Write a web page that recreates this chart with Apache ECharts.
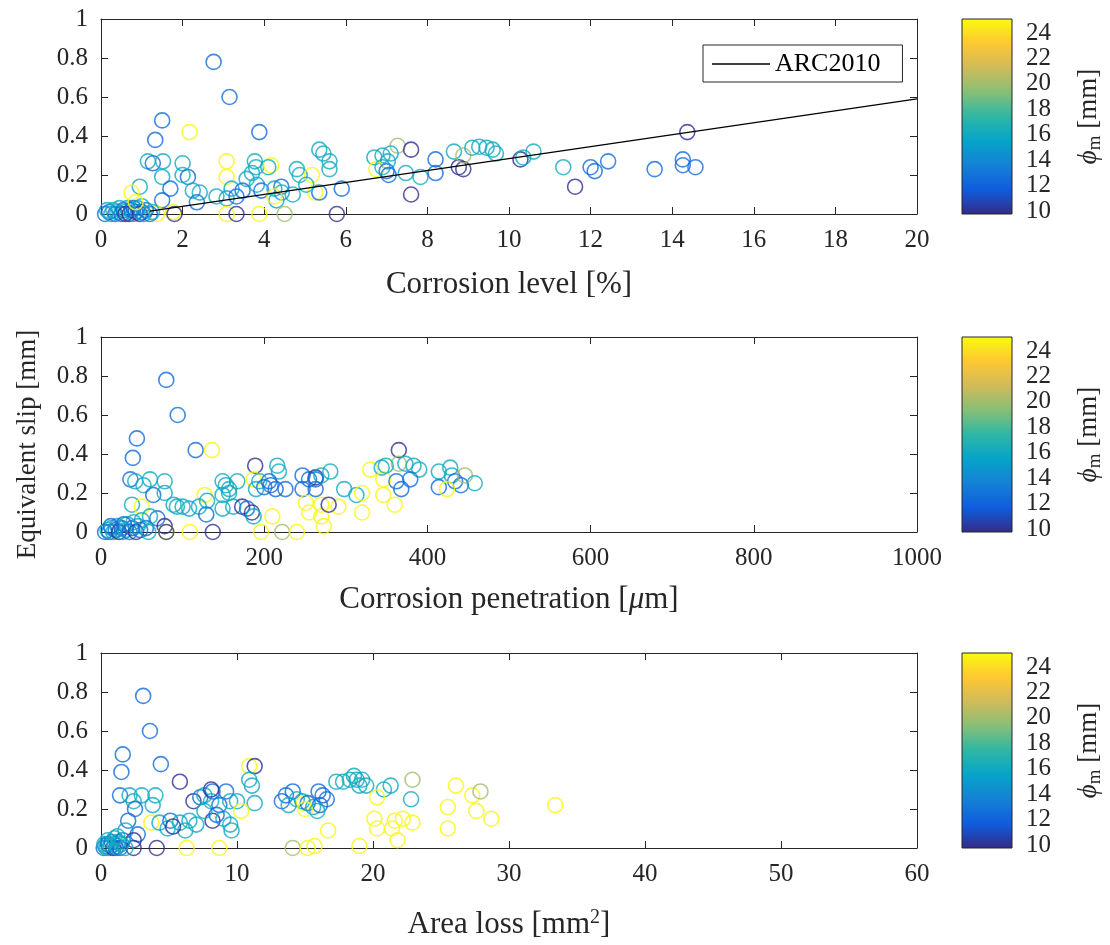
<!DOCTYPE html>
<html><head><meta charset="utf-8">
<script src="https://cdn.jsdelivr.net/npm/echarts@6/dist/echarts.min.js"></script>
<style>html,body{margin:0;padding:0;background:#fff}#c{width:1110px;height:945px}</style>
</head><body><div id="c"></div>
<script>
// [corrosion level %, equivalent slip mm, phi_m mm]
const corrosionLevel = [
[2.76,0.78,12.5],[3.15,0.60,12.5],[1.5,0.48,12.5],[3.88,0.42,12.5],[2.17,0.42,25],[1.33,0.38,12.5],
[14.37,0.42,10],[7.27,0.35,20],[7.6,0.33,10],[5.35,0.33,16],[5.45,0.31,16],[5.6,0.27,16],[5.6,0.23,16],
[5.25,0.11,25],[5.9,0.13,12.5],[5.35,0.11,12.5],
[1.15,0.27,16],[1.27,0.26,12.5],[1.52,0.27,16],[2.0,0.26,16],[3.08,0.27,25],[3.77,0.27,16],[3.8,0.24,16],
[4.17,0.25,25],[4.1,0.24,16],[1.5,0.19,16],[2.13,0.19,12.5],[2.0,0.2,16],[3.08,0.19,25],[3.57,0.18,16],
[3.7,0.21,16],[4.8,0.23,16],[4.87,0.2,16],[5.17,0.2,25],[0.95,0.14,16],[0.75,0.11,25],[1.7,0.13,12.5],
[2.25,0.12,16],[2.42,0.11,16],[2.83,0.09,16],[3.2,0.13,16],[3.47,0.12,12.5],[3.82,0.15,16],[3.93,0.12,12.5],
[4.25,0.13,16],[4.42,0.14,12.5],[4.43,0.11,16],[4.7,0.1,16],[5.03,0.15,16],[1.5,0.07,12.5],[2.35,0.06,12.5],
[3.08,0.08,16],[3.32,0.09,12.5],[4.3,0.07,16],[4.25,0.09,25],
[1.37,0.0,25],[1.77,0.01,25],[1.8,0.0,10],[3.08,0.0,25],[3.32,0.0,10],[3.88,0.0,25],[4.5,0.0,20],[5.78,0.0,10],
[6.7,0.29,16],[6.9,0.3,16],[7.1,0.31,16],[7.03,0.27,16],[6.75,0.23,25],[7.0,0.22,12.5],[6.9,0.24,16],
[7.05,0.2,12.5],[7.47,0.21,16],[7.83,0.19,16],[7.6,0.1,10],
[8.2,0.28,12.5],[8.2,0.21,12.5],[8.65,0.32,16],[8.77,0.24,10],[8.88,0.23,10],[8.88,0.3,20],
[9.1,0.34,16],[9.27,0.345,16],[9.45,0.34,16],[9.6,0.33,16],[9.68,0.31,16],
[10.28,0.28,10],[10.35,0.29,16],[10.6,0.32,16],[11.33,0.24,16],[11.62,0.14,10],[12.0,0.24,12.5],
[12.1,0.22,12.5],[12.43,0.27,12.5],[13.57,0.23,12.5],[14.26,0.28,12.5],[14.26,0.25,12.5],[14.57,0.24,12.5],
[0.1,0.0,12.5],[0.2,0.01,12.5],[0.25,0.0,16],[0.3,0.02,16],[0.35,0.0,12.5],[0.4,0.01,16],[0.45,0.03,16],
[0.5,0.0,12.5],[0.55,0.02,12.5],[0.6,0.01,16],[0.65,0.03,16],[0.7,0.0,10],[0.75,0.02,12.5],[0.8,0.0,16],
[0.85,0.01,12.5],[0.9,0.03,16],[0.95,0.0,10],[1.0,0.01,12.5],[1.05,0.0,16],[1.1,0.02,12.5],[1.2,0.0,12.5],
[1.25,0.01,16],[0.15,0.02,16],[0.6,0.0,10],[0.8,0.03,12.5],[1.0,0.04,16],[0.85,0.06,25]
];
// [corrosion penetration um, equivalent slip mm, phi_m mm]
const penetration = [
[80,0.78,12.5],[94,0.6,12.5],[44,0.48,12.5],[39,0.38,12.5],[116,0.42,12.5],[136,0.42,25],[189,0.34,10],
[216,0.34,16],[218,0.31,16],[36,0.27,12.5],[42,0.26,16],[60,0.27,16],[78,0.26,16],[52,0.24,16],
[64,0.19,12.5],[78,0.2,16],[38,0.14,16],[50,0.13,25],[69,0.07,12.5],[78,0.03,10],
[80,0.0,25],[80,0.0,10],[109,0.0,25],[137,0.0,10],[196,0.0,25],[222,0.0,20],[240,0.0,25],
[93,0.13,16],[100,0.13,16],[108,0.12,16],[89,0.14,16],[127,0.19,25],[130,0.16,16],[120,0.13,16],[129,0.09,12.5],
[149,0.26,16],[153,0.24,16],[157,0.22,16],[167,0.26,16],[149,0.19,16],[157,0.2,16],[149,0.12,16],[162,0.13,16],
[173,0.13,10],[179,0.12,12.5],[185,0.1,10],[187,0.08,16],[187,0.27,25],[190,0.22,16],
[200,0.23,12.5],[208,0.24,12.5],[214,0.22,12.5],[226,0.22,12.5],[194,0.26,16],[206,0.26,12.5],
[247,0.29,12.5],[255,0.27,12.5],[263,0.28,10],[263,0.27,12.5],[270,0.29,16],[281,0.31,16],
[247,0.22,12.5],[263,0.22,12.5],[298,0.22,16],[313,0.19,16],[320,0.2,25],
[251,0.15,25],[270,0.14,25],[291,0.13,25],[255,0.1,25],[270,0.08,25],[279,0.14,10],[273,0.03,25],[210,0.08,25],
[320,0.1,25],[330,0.32,25],[344,0.33,16],[346,0.27,25],[346,0.19,25],
[365,0.42,10],[365,0.35,20],[349,0.34,16],[373,0.35,16],[383,0.34,16],[390,0.32,16],
[362,0.26,12.5],[368,0.22,12.5],[379,0.27,12.5],[360,0.14,25],
[414,0.31,16],[428,0.33,16],[430,0.29,16],[414,0.23,12.5],[434,0.26,12.5],[441,0.24,12.5],[446,0.29,20],
[458,0.25,16],[424,0.22,25],
[5,0.0,12.5],[8,0.01,16],[10,0.0,12.5],[13,0.02,16],[15,0.0,16],[18,0.01,12.5],[20,0.03,16],[22,0.0,10],
[25,0.02,12.5],[27,0.0,16],[30,0.01,16],[32,0.04,16],[35,0.0,12.5],[38,0.02,12.5],[40,0.05,16],[43,0.0,10],
[45,0.03,16],[48,0.01,12.5],[50,0.06,16],[55,0.02,12.5],[58,0.0,16],[12,0.03,12.5],[28,0.04,12.5],[60,0.08,16]
];
// [area loss mm2, equivalent slip mm, phi_m mm]
const areaLoss = [
[3.1,0.78,12.5],[3.6,0.6,12.5],[1.6,0.48,12.5],[1.5,0.39,12.5],[4.4,0.43,12.5],[10.9,0.42,25],[11.3,0.42,10],
[5.8,0.34,10],[10.9,0.35,16],[11.1,0.32,16],[11.3,0.23,16],
[1.4,0.27,12.5],[2.1,0.27,16],[3.0,0.27,16],[4.0,0.27,16],[2.4,0.24,16],[3.8,0.22,16],
[2.5,0.2,12.5],[2.0,0.14,12.5],[1.8,0.09,16],[2.7,0.07,12.5],[2.4,0.04,10],
[2.4,0.0,10],[4.1,0.0,10],[6.3,0.0,25],[8.7,0.0,25],[14.1,0.0,20],[15.2,0.0,25],
[3.7,0.13,25],[4.3,0.13,16],[5.1,0.14,12.5],[4.9,0.1,16],[5.8,0.13,16],[6.5,0.14,16],[6.2,0.09,16],[7.0,0.12,16],
[5.3,0.11,10],[6.8,0.24,10],[7.3,0.26,12.5],[7.6,0.27,16],[8.2,0.29,12.5],[8.1,0.24,16],[8.7,0.22,12.5],
[9.2,0.29,12.5],[9.5,0.24,16],[10.0,0.24,16],[8.1,0.3,10],[8.2,0.14,10],[9.0,0.15,16],[9.5,0.12,16],[9.6,0.09,16],
[10.3,0.19,25],[7.6,0.19,16],[8.5,0.17,12.5],
[13.6,0.27,12.5],[14.1,0.29,12.5],[14.4,0.25,16],[13.3,0.24,12.5],[13.8,0.22,16],[14.9,0.23,25],
[14.8,0.24,16],[15.2,0.23,12.5],[15.6,0.21,16],[16.0,0.29,12.5],[16.3,0.27,12.5],[16.6,0.25,12.5],[16.1,0.22,12.5],
[15.0,0.2,25],[15.9,0.19,16],[17.3,0.34,16],[16.7,0.09,25],[15.7,0.01,25],
[17.8,0.34,16],[18.3,0.35,16],[18.8,0.35,16],[19.2,0.35,16],[19.5,0.32,16],[19.0,0.32,16],[18.6,0.37,16],
[20.8,0.3,16],[21.3,0.32,16],[22.9,0.35,20],[22.8,0.25,16],[20.3,0.26,25],
[20.1,0.15,25],[21.6,0.14,25],[22.2,0.15,25],[22.9,0.13,25],[20.3,0.1,25],[21.4,0.1,25],[21.8,0.04,25],
[19.0,0.01,25],[26.1,0.32,25],[27.3,0.27,25],[27.9,0.29,20],[25.5,0.21,25],[27.6,0.19,25],[28.7,0.15,25],
[25.5,0.1,25],[33.4,0.22,25],
[0.2,0.0,12.5],[0.3,0.01,16],[0.4,0.0,16],[0.5,0.02,12.5],[0.6,0.0,16],[0.7,0.01,16],[0.8,0.03,12.5],
[0.9,0.0,10],[1.0,0.02,16],[1.1,0.0,12.5],[1.2,0.01,16],[1.3,0.03,16],[1.4,0.0,12.5],[1.5,0.02,16],
[1.6,0.04,12.5],[1.8,0.0,16],[0.5,0.04,16],[1.0,0.05,16],[0.25,0.02,16],[1.2,0.06,16]
];
const arc2010 = [[1.2,0.015],[20,0.59]];
const slipTicks = {min:0, max:1, interval:0.2};
const xRanges = [{min:0,max:20,interval:2},{min:0,max:1000,interval:200},{min:0,max:60,interval:10}];
const xNames = ['Corrosion level [%]','Corrosion penetration [{i|μ}m]','Area loss [mm{sup|2}]'];
const colorbarTicks = [10,12,14,16,18,20,22,24];
const phiRange = [9.76, 25.1];
const parula = ['#352a87','#0f5cdd','#1481d6','#06a4ca','#2eb7a4','#87bf77','#d1bb59','#fec832','#f9fb0e'];

function hex2rgb(h){return [parseInt(h.slice(1,3),16),parseInt(h.slice(3,5),16),parseInt(h.slice(5,7),16)];}
function parulaColor(v){
  let t=(v-phiRange[0])/(phiRange[1]-phiRange[0]); t=Math.max(0,Math.min(1,t));
  const n=parula.length-1, f=t*n, i=Math.min(n-1,Math.floor(f)), r=f-i;
  const a=hex2rgb(parula[i]), b=hex2rgb(parula[i+1]);
  return 'rgb('+a.map((c,k)=>Math.round(c+(b[k]-c)*r)).join(',')+')';
}
const FONT='Liberation Serif', TXT='#262626';
const TICKF=25, TITLEF=31;
const tops=[19,337,653], H=195, L=101, W=816;
const grids=[], xAxes=[], yAxes=[], series=[];
tops.forEach(t=>grids.push({left:L,top:t,width:W,height:H}));
tops.forEach(t=>grids.push({left:962,top:t,width:50,height:H}));
const lineAx={show:true,onZero:false,lineStyle:{color:TXT,width:1}};
const tick={show:true,inside:true,length:7,lineStyle:{color:TXT}};
const fmt=v=>String(v);
for(let i=0;i<3;i++){
  xAxes.push({type:'value',gridIndex:i,position:'bottom',min:xRanges[i].min,max:xRanges[i].max,interval:xRanges[i].interval,
    axisLine:lineAx,axisTick:tick,splitLine:{show:false},
    axisLabel:{fontFamily:FONT,fontSize:TICKF,color:TXT,margin:14,formatter:fmt},
    name:xNames[i],nameLocation:'middle',nameGap:[55,52,60][i],
    nameTextStyle:{fontFamily:FONT,fontSize:TITLEF,color:TXT,
      rich:{i:{fontFamily:FONT,fontSize:TITLEF,fontStyle:'italic',color:TXT},
            sup:{fontFamily:FONT,fontSize:20,color:TXT,padding:[0,0,14,0]}}}});
  xAxes.push({type:'value',gridIndex:i,position:'top',min:xRanges[i].min,max:xRanges[i].max,interval:xRanges[i].interval,
    axisLine:lineAx,axisTick:tick,axisLabel:{show:false},splitLine:{show:false}});
  yAxes.push({type:'value',gridIndex:i,position:'left',min:slipTicks.min,max:slipTicks.max,interval:slipTicks.interval,
    axisLine:lineAx,axisTick:tick,splitLine:{show:false},
    axisLabel:{fontFamily:FONT,fontSize:TICKF,color:TXT,margin:13,formatter:fmt},
    name:i===1?'Equivalent slip [mm]':'',nameLocation:'middle',nameGap:60,
    nameTextStyle:{fontFamily:FONT,fontSize:27,color:TXT,padding:[0,20,0,0]}});
  yAxes.push({type:'value',gridIndex:i,position:'right',min:slipTicks.min,max:slipTicks.max,interval:slipTicks.interval,
    axisLine:lineAx,axisTick:tick,axisLabel:{show:false},splitLine:{show:false}});
}
for(let j=0;j<3;j++){
  xAxes.push({type:'value',gridIndex:3+j,min:0,max:1,show:false});
  yAxes.push({type:'value',gridIndex:3+j,position:'right',min:phiRange[0],max:phiRange[1],
    axisLine:{show:false},axisTick:{show:false},splitLine:{show:false},
    axisLabel:{customValues:colorbarTicks,fontFamily:FONT,fontSize:TICKF,color:TXT,margin:14},
    name:'{p|ϕ}{s|m} [mm]',nameLocation:'middle',nameRotate:90,nameGap:60,
    nameTextStyle:{fontFamily:FONT,fontSize:27,color:TXT,
      rich:{p:{fontFamily:FONT,fontSize:27,fontStyle:'italic',color:TXT},
            s:{fontFamily:FONT,fontSize:19,color:TXT,padding:[14,0,0,0]}}}});
}
const datasets=[corrosionLevel,penetration,areaLoss];
datasets.forEach((d,i)=>{
  series.push({type:'scatter',xAxisIndex:2*i,yAxisIndex:2*i,symbol:'circle',symbolSize:15,silent:true,
    itemStyle:{color:'rgba(0,0,0,0)',borderWidth:1.6},
    data:d.map(p=>({value:p,itemStyle:{color:'rgba(0,0,0,0)',borderColor:parulaColor(p[2]),borderWidth:1.6}}))});
});
series.push({type:'line',name:'ARC2010',xAxisIndex:0,yAxisIndex:0,data:arc2010,symbol:'none',silent:true,
  color:'#000',itemStyle:{color:'#000'},lineStyle:{color:'#000',width:1.3},z:5});
const stops=parula.map((c,k)=>({offset:k/(parula.length-1),color:c}));
for(let j=0;j<3;j++){
  series.push({type:'custom',xAxisIndex:6+j,yAxisIndex:6+j,silent:true,clip:false,data:[[0,phiRange[0]]],
    renderItem:(params,api)=>{const cs=params.coordSys;
      return {type:'rect',shape:{x:cs.x,y:cs.y,width:cs.width,height:cs.height},
        style:{fill:new echarts.graphic.LinearGradient(0,1,0,0,stops),stroke:TXT,lineWidth:1}};}});
}
const chart=echarts.init(document.getElementById('c'),null,{renderer:'canvas'});
chart.setOption({
  animation:false,backgroundColor:'#fff',
  grid:grids,xAxis:xAxes,yAxis:yAxes,series:series,
  legend:{data:['ARC2010'],left:703,top:45,borderColor:TXT,borderWidth:1,backgroundColor:'#fff',
    padding:[6,22,5,9],icon:'rect',itemWidth:58,itemHeight:1.4,selectedMode:false,
    itemStyle:{color:'#000'},
    textStyle:{fontFamily:FONT,fontSize:26,color:'#000'}}
});
</script></body></html>
